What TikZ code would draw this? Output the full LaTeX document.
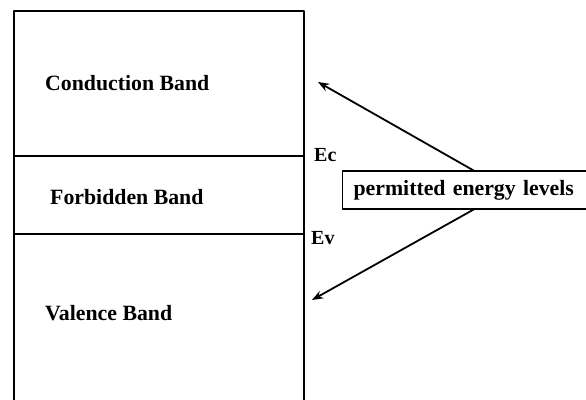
\documentclass[tikz,border=0pt]{standalone}
\usepackage{fontspec}
\setmainfont{Liberation Serif}
\usetikzlibrary{arrows.meta}

\begin{document}
\begin{tikzpicture}[line cap=round,line join=round,>=Stealth,x=1pt,y=-1pt,
  band/.style={font=\bfseries\fontsize{21.8}{26}\selectfont,anchor=west,inner sep=0pt},
  level/.style={font=\bfseries\fontsize{20}{24}\selectfont,anchor=west,inner sep=0pt}]
\clip(0,0) rectangle (586,399);
\draw [line width=1.2pt] (14,405) -- (14,11) -- (304,11) -- (304,405);
\draw [line width=1.1pt] (14,156)-- (304,156);
\draw [line width=1.1pt] (14,234)-- (304,234);
\node[band] (cb) at (45,83) {Conduction Band};
\node[band] (fb) at (50,197) {Forbidden Band};
\node[band] (vb) at (45,313) {Valence Band};
\node[level] (ec) at (314,155) {Ec};
\node[level] (ev) at (311,238) {Ev};
\node[draw,line width=1.1pt,anchor=west,text width=240pt,inner xsep=11pt,minimum height=38pt,
  font=\bfseries\fontsize{21.8}{26}\selectfont] (lvl) at (342,190) {permitted energy levels};
\coordinate (cbtip) at (318,82);
\coordinate (vbtip) at (312,300);
\draw [->,line width=1.8pt] (lvl.north) -- (cbtip);
\draw [->,line width=1.8pt] (lvl.south) -- (vbtip);
\end{tikzpicture}
\end{document}
